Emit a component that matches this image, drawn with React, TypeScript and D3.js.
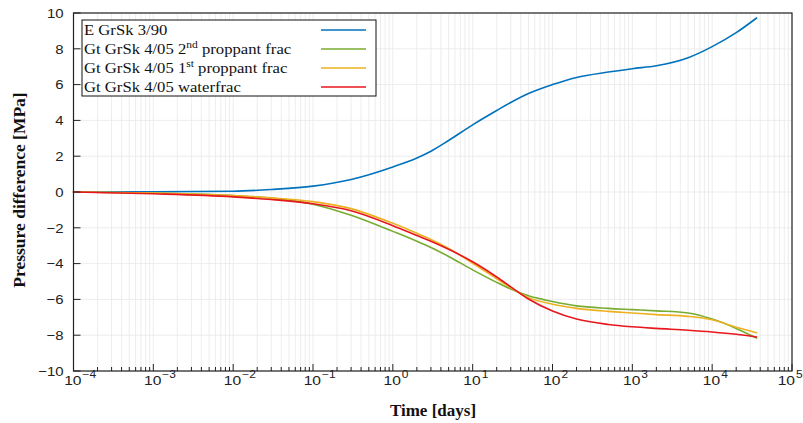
import React from "react";
import * as d3 from "d3";

// Elapsed time since start of operation, in days
const timeDays = [
  1e-4, 1e-3, 1e-2, 3e-2, 0.1, 0.3, 1, 2, 3, 5, 10, 20, 30, 50, 100, 200, 500,
  1000, 2000, 5000, 1e4, 2e4, 3.6e4,
];

// Pressure difference [MPa] for each treatment
const eGrSk390 = [
  0, 0.01, 0.04, 0.14, 0.33, 0.7, 1.4, 1.9, 2.28, 2.88, 3.75, 4.55, 5.0, 5.5,
  6.0, 6.4, 6.7, 6.89, 7.05, 7.5, 8.12, 8.9, 9.72,
];
const gt2ndProppant = [
  0, -0.06, -0.2, -0.34, -0.68, -1.3, -2.2, -2.75, -3.1, -3.6, -4.35, -5.05,
  -5.42, -5.8, -6.12, -6.36, -6.5, -6.57, -6.64, -6.76, -7.1, -7.62, -8.16,
];
const gt1stProppant = [
  0, -0.06, -0.2, -0.33, -0.54, -0.93, -1.75, -2.3, -2.65, -3.15, -3.98, -4.85,
  -5.35, -5.9, -6.27, -6.5, -6.67, -6.76, -6.85, -6.95, -7.14, -7.55, -7.86,
];
const gtWaterfrac = [
  0, -0.1, -0.27, -0.42, -0.66, -1.05, -1.88, -2.43, -2.75, -3.2, -3.9, -4.75,
  -5.3, -5.98, -6.65, -7.1, -7.4, -7.53, -7.62, -7.72, -7.82, -7.95, -8.1,
];

const yTicks = [-10, -8, -6, -4, -2, 0, 2, 4, 6, 8, 10];
const xDecades = [-4, -3, -2, -1, 0, 1, 2, 3, 4, 5];

const seriesList = [
  { key: "e", values: eGrSk390, color: "#0072BD", label: ["E GrSk 3/90"], sup: "" },
  { key: "g2", values: gt2ndProppant, color: "#77AC30", label: ["Gt GrSk 4/05 2", " proppant frac"], sup: "nd" },
  { key: "g1", values: gt1stProppant, color: "#EDB120", label: ["Gt GrSk 4/05 1", " proppant frac"], sup: "st" },
  { key: "w", values: gtWaterfrac, color: "#E8161D", label: ["Gt GrSk 4/05 waterfrac"], sup: "" },
];

const W = 803;
const H = 423;
const left = 73.5;
const right = 792;
const top = 13;
const bottom = 371;

// glyphs in this figure are drawn slightly wide
const stretch = 1.15;

const serif = "'Liberation Serif', 'Times New Roman', serif";
const sans = "'Liberation Sans', Arial, Helvetica, sans-serif";

export default function App() {
  const x = d3.scaleLog().domain([1e-4, 1e5]).range([left, right]);
  const y = d3.scaleLinear().domain([-10, 10]).range([bottom, top]);

  const minorTicks: number[] = [];
  for (const d of xDecades.slice(0, -1)) {
    for (let m = 2; m <= 9; m++) minorTicks.push(m * Math.pow(10, d));
  }

  const line = d3
    .line<number>()
    .x((_, i) => x(timeDays[i]))
    .y((v) => y(v))
    .curve(d3.curveMonotoneX);

  const legendX = 82;
  const legendY = 20;
  const legendW = 294;
  const legendH = 76;
  const rowGap = 19;

  return (
    <div style={{ position: "fixed", left: 0, top: 0 }}>
      <svg width={W} height={H} viewBox={`0 0 ${W} ${H}`} style={{ display: "block", background: "#fff" }}>
        {/* grid */}
        <g stroke="#e8e8e8" strokeWidth={0.8}>
          {minorTicks.map((t) => (
            <line key={`gm${t}`} x1={x(t)} x2={x(t)} y1={top} y2={bottom} />
          ))}
          {xDecades.map((d) => (
            <line key={`gx${d}`} x1={x(Math.pow(10, d))} x2={x(Math.pow(10, d))} y1={top} y2={bottom} />
          ))}
          {yTicks.map((v) => (
            <line key={`gy${v}`} x1={left} x2={right} y1={y(v)} y2={y(v)} />
          ))}
        </g>

        {/* series */}
        <g fill="none" strokeWidth={1.6} strokeLinejoin="round" strokeLinecap="round">
          {seriesList.map((s) => (
            <path key={s.key} d={line(s.values) || ""} stroke={s.color} />
          ))}
        </g>

        {/* axis ticks (inward) */}
        <g stroke="#222" strokeWidth={1}>
          {xDecades.map((d) => (
            <line key={`tx${d}`} x1={x(Math.pow(10, d))} x2={x(Math.pow(10, d))} y1={bottom} y2={bottom - 7} />
          ))}
          {minorTicks.map((t) => (
            <line key={`tm${t}`} x1={x(t)} x2={x(t)} y1={bottom} y2={bottom - 4} />
          ))}
          {yTicks.map((v) => (
            <line key={`ty${v}`} x1={left} x2={left + 7} y1={y(v)} y2={y(v)} />
          ))}
        </g>

        {/* frame */}
        <rect x={left} y={top} width={right - left} height={bottom - top} fill="none" stroke="#222" strokeWidth={1.2} />

        {/* y tick labels */}
        <g fontFamily={sans} fontSize={13} fill="#222" textAnchor="end">
          {yTicks.map((v) => (
            <text key={`ly${v}`} transform={`translate(${left - 10}, ${y(v) + 4.7}) scale(${stretch}, 1)`}>
              {v < 0 ? `\u2212${Math.abs(v)}` : `${v}`}
            </text>
          ))}
        </g>

        {/* x tick labels */}
        <g fontFamily={sans} fill="#222">
          {xDecades.map((d, i) => {
            const px = x(Math.pow(10, d)) - (i === xDecades.length - 1 ? 5 : 0);
            return (
              <g key={`lx${d}`}>
                <text transform={`translate(${px + 8}, 385) scale(1.2, 1)`} fontSize={13} textAnchor="end">10</text>
                <text transform={`translate(${px + 9}, 377.5) scale(1.2, 1)`} fontSize={10} textAnchor="start">
                  {d < 0 ? `\u2212${Math.abs(d)}` : `${d}`}
                </text>
              </g>
            );
          })}
        </g>

        {/* axis titles */}
        <text x={433} y={416} fontFamily={serif} fontWeight="bold" fontSize={17} textAnchor="middle" fill="#111">
          Time [days]
        </text>
        <text
          transform={`translate(25, ${(top + bottom) / 2 - 2}) rotate(-90)`}
          fontFamily={serif}
          fontWeight="bold"
          fontSize={17.5}
          textAnchor="middle"
          fill="#111"
        >
          Pressure difference [MPa]
        </text>

        {/* legend */}
        <rect x={legendX} y={legendY} width={legendW} height={legendH} fill="#fff" stroke="#111" strokeWidth={1} />
        <g fontFamily={serif} fontSize={14.5} fill="#111">
          {seriesList.map((s, i) => {
            const cy = legendY + 10 + i * rowGap;
            return (
              <g key={`lg${s.key}`}>
                <text transform={`translate(${legendX + 2}, ${cy + 5}) scale(${stretch}, 1)`}>
                  {s.label[0]}
                  {s.sup ? (
                    <>
                      <tspan dy={-6} fontSize={10}>{s.sup}</tspan>
                      <tspan dy={6}>{s.label[1]}</tspan>
                    </>
                  ) : null}
                </text>
                <line x1={321} x2={366} y1={cy} y2={cy} stroke={s.color} strokeWidth={1.6} />
              </g>
            );
          })}
        </g>
      </svg>
    </div>
  );
}
